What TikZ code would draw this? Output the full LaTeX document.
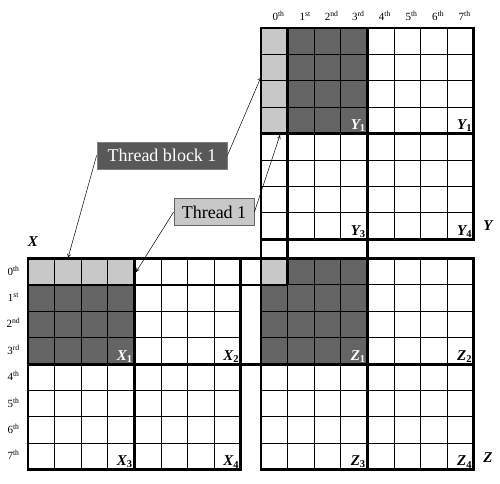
\documentclass[tikz,border=0pt]{standalone}
\usepackage{fontspec}
\setmainfont{Liberation Serif}
\usetikzlibrary{calc,arrows.meta}
\definecolor{lightcell}{RGB}{200,200,200}
\definecolor{darkcell}{RGB}{100,100,100}
\definecolor{boxdark}{RGB}{88,88,88}
\def\matgrid(#1,#2){\foreach \k in {0,...,8}{\draw[line width=0.9pt] ({#1+\k*26.6},#2) -- ++(0,211.2); \draw[line width=0.9pt] (#1,{#2+\k*26.4}) -- ++(212.8,0);}}
\def\ord#1#2{#1\textsuperscript{#2}}

\begin{document}
\begin{tikzpicture}[x=1pt,y=-1pt,
	thickline/.style={line width=2.8pt},
	blocklabel/.style={anchor=south east,inner sep=1.5pt,font=\fontsize{15}{15}\selectfont\bfseries\itshape},
	matname/.style={font=\fontsize{15}{15}\selectfont\bfseries\itshape},
	idxlabel/.style={font=\fontsize{11}{11}\selectfont},
	callout/.style={draw,line width=0.8pt,minimum height=27pt,inner sep=0pt,font=\fontsize{18}{18}\selectfont},
	pointer/.style={-{To[length=4pt,width=4pt]},line width=0.5pt}]
				\useasboundingbox (0,0) rectangle (500,483);
				
				\fill[lightcell] (28,258.5) rectangle (134.4,284.9);
				\fill[darkcell] (28,284.9) rectangle (134.4,364.1);
				\fill[lightcell] (261,28) rectangle (287.6,133.6);
				\fill[darkcell] (287.6,28) rectangle (367.4,133.6);
				\fill[darkcell] (261,258.5) rectangle (367.4,364.1);
				\fill[lightcell] (261,258.5) rectangle (287.6,284.9);
				
				\matgrid(28,258.5)
				\matgrid(261,28)
				\matgrid(261,258.5)
				
				\draw[thickline] (28,258.5) rectangle (240.8,469.7);
				\draw[thickline] (261,28) rectangle (473.8,239.2);
				\draw[thickline] (261,258.5) rectangle (473.8,469.7);
				\draw[thickline] (28,258.5) -- (473.8,258.5);
				\draw[thickline] (28,364.1) -- (473.8,364.1);
				\draw[thickline] (28,284.9) -- (287.6,284.9);
				\draw[thickline] (261,28) -- (261,469.7);
				\draw[thickline] (367.4,28) -- (367.4,469.7);
				\draw[thickline] (287.6,28) -- (287.6,284.9);
				\draw[thickline] (134.4,258.5) -- (134.4,469.7);
				\draw[thickline] (261,133.6) -- (473.8,133.6);
				
				\node[blocklabel,text=white] (x1) at (134.4,364.1) {X\textsubscript{\upshape 1}};
				\node[blocklabel] (x2) at (240.8,364.1) {X\textsubscript{\upshape 2}};
				\node[blocklabel] (x3) at (134.4,469.7) {X\textsubscript{\upshape 3}};
				\node[blocklabel] (x4) at (240.8,469.7) {X\textsubscript{\upshape 4}};
				\node[blocklabel,text=white] (y1) at (367.4,133.6) {Y\textsubscript{\upshape 1}};
				\node[blocklabel] (y2) at (473.8,133.6) {Y\textsubscript{\upshape 1}};
				\node[blocklabel] (y3) at (367.4,239.2) {Y\textsubscript{\upshape 3}};
				\node[blocklabel] (y4) at (473.8,239.2) {Y\textsubscript{\upshape 4}};
				\node[blocklabel,text=white] (z1) at (367.4,364.1) {Z\textsubscript{\upshape 1}};
				\node[blocklabel] (z2) at (473.8,364.1) {Z\textsubscript{\upshape 2}};
				\node[blocklabel] (z3) at (367.4,469.7) {Z\textsubscript{\upshape 3}};
				\node[blocklabel] (z4) at (473.8,469.7) {Z\textsubscript{\upshape 4}};
				
				\node[matname] (xname) at (33,242) {X};
				\node[matname] (yname) at (488,226) {Y};
				\node[matname] (zname) at (488,458) {Z};
				
				\node[idxlabel] (c0) at (278.5,16) {\ord{0}{th}};
				\node[idxlabel] (c1) at (305.1,16) {\ord{1}{st}};
				\node[idxlabel] (c2) at (331.7,16) {\ord{2}{nd}};
				\node[idxlabel] (c3) at (358.3,16) {\ord{3}{rd}};
				\node[idxlabel] (c4) at (384.9,16) {\ord{4}{th}};
				\node[idxlabel] (c5) at (411.5,16) {\ord{5}{th}};
				\node[idxlabel] (c6) at (438.1,16) {\ord{6}{th}};
				\node[idxlabel] (c7) at (464.7,16) {\ord{7}{th}};
				
				\node[idxlabel] (r0) at (13.5,270.5) {\ord{0}{th}};
				\node[idxlabel] (r1) at (13.5,296.9) {\ord{1}{st}};
				\node[idxlabel] (r2) at (13.5,323.3) {\ord{2}{nd}};
				\node[idxlabel] (r3) at (13.5,349.7) {\ord{3}{rd}};
				\node[idxlabel] (r4) at (13.5,376.1) {\ord{4}{th}};
				\node[idxlabel] (r5) at (13.5,402.5) {\ord{5}{th}};
				\node[idxlabel] (r6) at (13.5,428.9) {\ord{6}{th}};
				\node[idxlabel] (r7) at (13.5,455.3) {\ord{7}{th}};
				
				\node[callout,draw=gray,fill=boxdark,text=white,minimum width=130pt] (tb) at (162,155.5) {Thread block 1};
				\node[callout,draw=darkcell,fill=lightcell,minimum width=80pt] (th) at (214,212) {Thread 1};
				
				\coordinate (xrow) at (68,258);
				\coordinate (ycol) at (261,77);
				\coordinate (xcell) at (136,272);
				\coordinate (ycell) at (280,135);
				
				\draw[pointer] (tb.west) -- (xrow);
				\draw[pointer] (tb.east) -- (ycol);
				\draw[pointer] (th.west) -- (xcell);
				\draw[pointer] (th.east) -- (ycell);
			\end{tikzpicture}
\end{document}
